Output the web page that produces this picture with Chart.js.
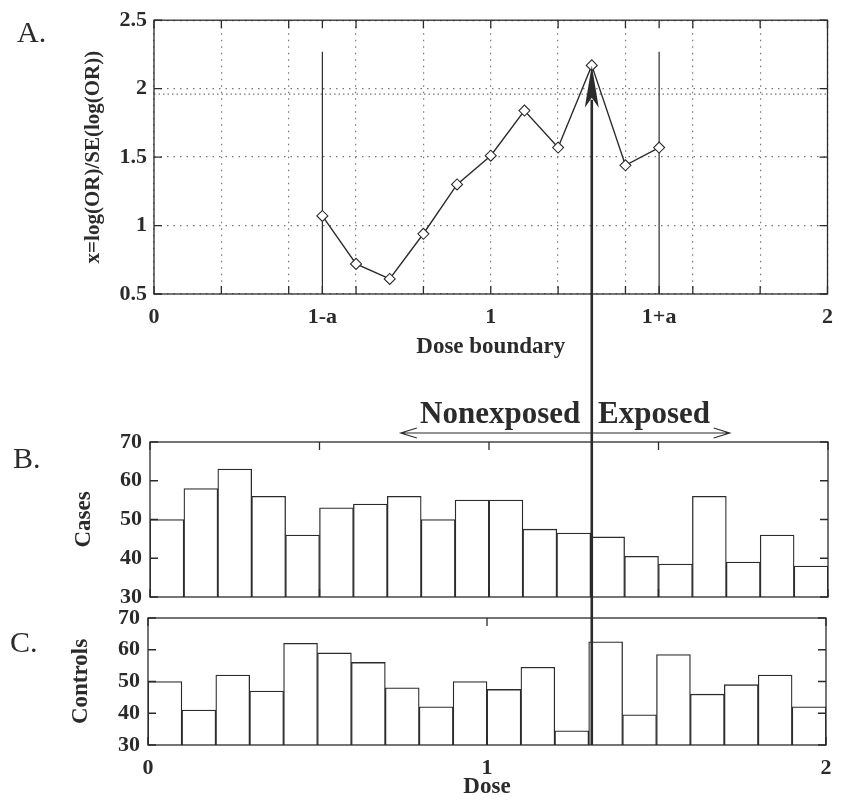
<!DOCTYPE html>
<html>
<head>
<meta charset="utf-8">
<script src="https://cdn.jsdelivr.net/npm/chart.js@4.4.0/dist/chart.umd.min.js"></script>
<style>
  body { margin: 0; background: #fff; }
  #page { position: relative; width: 843px; height: 802px; overflow: hidden; }
  #page canvas { position: absolute; left: 0; top: 0; }
  .tag { position: absolute; font: 30px 'Liberation Serif'; color: #2b2b2b; line-height: 30px; }
  .side { position: absolute; font: bold 31px 'Liberation Serif'; color: #2b2b2b; line-height: 31px; }
</style>
</head>
<body>
<div id="page">
  <canvas id="panelA" width="843" height="802"></canvas>
  <canvas id="panelB" width="843" height="802"></canvas>
  <canvas id="panelC" width="843" height="802"></canvas>
  <div class="tag" style="left:17px;top:17px">A.</div>
  <div class="tag" style="left:13px;top:443px">B.</div>
  <div class="tag" style="left:10px;top:627px">C.</div>
  <div class="side" style="left:420px;top:397px">Nonexposed</div>
  <div class="side" style="left:598px;top:397px">Exposed</div>
</div>
<script>
// panel A: test statistic for each candidate dose boundary
const boundaries = [0.5, 0.6, 0.7, 0.8, 0.9, 1.0, 1.1, 1.2, 1.3, 1.4, 1.5];
const zScores = [1.07, 0.72, 0.61, 0.94, 1.30, 1.51, 1.84, 1.57, 2.17, 1.44, 1.57];
const halfWidth = 0.5;        // a
const criticalZ = 1.96;
const edgeTop = 2.27;

// panels B and C: counts per dose bin
const binCenters = [0.05, 0.15, 0.25, 0.35, 0.45, 0.55, 0.65, 0.75, 0.85, 0.95,
                    1.05, 1.15, 1.25, 1.35, 1.45, 1.55, 1.65, 1.75, 1.85, 1.95];
const cases = [50, 58, 63, 56, 46, 53, 54, 56, 50, 55, 55, 47.5, 46.5, 45.5, 40.5, 38.5, 56, 39, 46, 38];
const controls = [50, 41, 52, 47, 62, 59, 56, 48, 42, 50, 47.5, 54.5, 34.5, 62.5, 39.5, 58.5, 46, 49, 52, 42];

// tick labels
const ticksA = [0, 0.2, 0.4, 0.5, 0.6, 0.8, 1, 1.2, 1.4, 1.5, 1.6, 1.8, 2];
const labelsA = { 0: '0', 0.5: '1-a', 1: '1', 1.5: '1+a', 2: '2' };
const ticksB = [0, 0.5, 1, 1.5, 2];

// chosen boundary and the arrow annotations
const cutPoint = 1.3;
const arrowTip = 2.17;
const arrowWing = 1.86;
const sideArrow = [0.74, 1.71];

const INK = '#2b2b2b';
Chart.defaults.font.family = "'Liberation Serif', 'DejaVu Serif', serif";
Chart.defaults.font.weight = 'bold';
Chart.defaults.font.size = 22;
Chart.defaults.color = INK;

const fixWidth = w => s => { s.width = w; };
const fixHeight = h => s => { s.height = h; };
const plainNum = v => String(v);

// MATLAB style box with inward tick marks
const boxTicks = {
  id: 'boxTicks',
  afterDatasetsDraw(chart) {
    const { ctx, chartArea: a, scales: { x, y } } = chart;
    ctx.save();
    ctx.strokeStyle = INK;
    ctx.lineWidth = 1.3;
    ctx.beginPath();
    x.ticks.forEach(t => {
      const px = x.getPixelForValue(t.value);
      ctx.moveTo(px, a.bottom); ctx.lineTo(px, a.bottom - 8);
      ctx.moveTo(px, a.top); ctx.lineTo(px, a.top + 8);
    });
    y.ticks.forEach(t => {
      const py = y.getPixelForValue(t.value);
      ctx.moveTo(a.left, py); ctx.lineTo(a.left + 8, py);
      ctx.moveTo(a.right, py); ctx.lineTo(a.right - 8, py);
    });
    ctx.stroke();
    ctx.strokeRect(a.left, a.top, a.right - a.left, a.bottom - a.top);
    ctx.restore();
  }
};

const base = {
  responsive: false,
  maintainAspectRatio: false,
  devicePixelRatio: 1,
  animation: false,
  plugins: { legend: { display: false }, tooltip: { enabled: false } }
};

const chartA = new Chart(document.getElementById('panelA'), {
  type: 'line',
  data: {
    datasets: [
      {
        data: boundaries.map((b, i) => ({ x: b, y: zScores[i] })),
        borderColor: INK, borderWidth: 1.4,
        pointStyle: 'rectRot', pointRadius: 5.5,
        pointBackgroundColor: '#fff', pointBorderColor: INK, pointBorderWidth: 1.1
      },
      {
        data: [{ x: 1 - halfWidth, y: 0.5 }, { x: 1 - halfWidth, y: edgeTop }],
        borderColor: INK, borderWidth: 1.2, pointRadius: 0
      },
      {
        data: [{ x: 1 + halfWidth, y: 0.5 }, { x: 1 + halfWidth, y: edgeTop }],
        borderColor: INK, borderWidth: 1.2, pointRadius: 0
      },
      {
        data: [{ x: 0, y: criticalZ }, { x: 2, y: criticalZ }],
        borderColor: '#777', borderWidth: 1.2, borderDash: [1.5, 3], pointRadius: 0
      }
    ]
  },
  options: {
    ...base,
    layout: { padding: { left: 81, top: 17, right: 12, bottom: 441 } },
    scales: {
      x: {
        type: 'linear', min: 0, max: 2,
        afterBuildTicks: s => { s.ticks = ticksA.map(v => ({ value: v })); },
        afterFit: fixHeight(67),
        ticks: { autoSkip: false, maxRotation: 0, padding: 10,
                 callback: v => labelsA[v] !== undefined ? labelsA[v] : '' },
        grid: { drawTicks: false, lineWidth: 1.2,
                color: c => (c.tick && (c.tick.value === 0.5 || c.tick.value === 1.5)) ? 'rgba(0,0,0,0)' : '#777' },
        border: { display: false, dash: [1.5, 5] },
        title: { display: true, text: 'Dose boundary', font: { size: 23 }, padding: 0 }
      },
      y: {
        min: 0.5, max: 2.5,
        afterFit: fixWidth(73),
        ticks: { stepSize: 0.5, padding: 7, callback: plainNum },
        grid: { drawTicks: false, lineWidth: 1.2, color: '#777' },
        border: { display: false, dash: [1.5, 5] },
        title: { display: true, text: 'x=log(OR)/SE(log(OR))', font: { size: 21 }, padding: 0 }
      }
    }
  },
  plugins: [boxTicks]
});

function barPanel(id, values, title, padding, yWidth, xAxis, extra) {
  return new Chart(document.getElementById(id), {
    type: 'bar',
    data: {
      datasets: [{
        data: binCenters.map((c, i) => ({ x: c, y: values[i] })),
        backgroundColor: '#fff', borderColor: INK, borderWidth: 1.3,
        barPercentage: 1, categoryPercentage: 1
      }]
    },
    options: {
      ...base,
      layout: { padding },
      scales: {
        x: xAxis,
        y: {
          min: 30, max: 70,
          afterFit: fixWidth(yWidth),
          ticks: { stepSize: 10, padding: 8 },
          grid: { display: false, drawTicks: false },
          border: { display: false },
          title: { display: true, text: title, font: { size: 23 }, padding: 0 }
        }
      }
    },
    plugins: [boxTicks].concat(extra || [])
  });
}

const chartB = barPanel('panelB', cases, 'Cases',
  { left: 70, top: 442, right: 15, bottom: 205 }, 80,
  {
    type: 'linear', min: 0, max: 2, offset: false,
    afterBuildTicks: s => { s.ticks = ticksB.map(v => ({ value: v })); },
    afterFit: fixHeight(0),
    ticks: { display: false },
    grid: { display: false, drawTicks: false },
    border: { display: false }
  });

// arrow marking the chosen boundary, drawn on the top-most canvas
const boundaryArrow = {
  id: 'boundaryArrow',
  afterDraw(chart) {
    const ctx = chart.ctx;
    const x = chartA.scales.x.getPixelForValue(cutPoint);
    const yTip = chartA.scales.y.getPixelForValue(arrowTip);
    const yWing = chartA.scales.y.getPixelForValue(arrowWing);
    const yEnd = chart.chartArea.bottom;
    ctx.save();
    ctx.strokeStyle = INK;
    ctx.fillStyle = INK;
    ctx.lineWidth = 2.6;
    ctx.beginPath();
    ctx.moveTo(x, yEnd);
    ctx.lineTo(x, yWing - 8);
    ctx.stroke();
    ctx.beginPath();
    ctx.moveTo(x, yTip);
    ctx.lineTo(x - 7, yWing);
    ctx.lineTo(x, yWing - 10);
    ctx.lineTo(x + 7, yWing);
    ctx.closePath();
    ctx.fill();

    const ys = chartB.chartArea.top - 9;
    const xl = chartB.scales.x.getPixelForValue(sideArrow[0]);
    const xr = chartB.scales.x.getPixelForValue(sideArrow[1]);
    ctx.lineWidth = 1.2;
    ctx.beginPath();
    ctx.moveTo(xl, ys); ctx.lineTo(xr, ys);
    ctx.moveTo(xl + 16, ys - 5); ctx.lineTo(xl, ys); ctx.lineTo(xl + 16, ys + 5);
    ctx.moveTo(xr - 16, ys - 5); ctx.lineTo(xr, ys); ctx.lineTo(xr - 16, ys + 5);
    ctx.stroke();
    ctx.restore();
  }
};

const chartC = barPanel('panelC', controls, 'Controls',
  { left: 67, top: 618, right: 17, bottom: 1 }, 81,
  {
    type: 'linear', min: 0, max: 2, offset: false,
    afterFit: fixHeight(56),
    ticks: { stepSize: 1, padding: 10, maxRotation: 0 },
    grid: { display: false, drawTicks: false },
    border: { display: false },
    title: { display: true, text: 'Dose', font: { size: 23 }, padding: 0 }
  },
  [boundaryArrow]);
</script>
</body>
</html>
